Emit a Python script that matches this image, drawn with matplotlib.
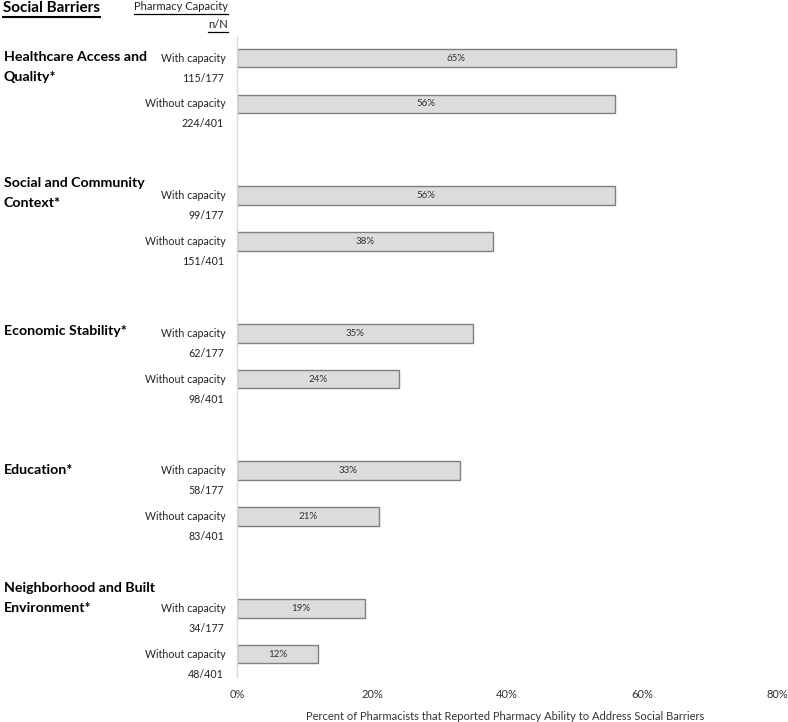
import matplotlib
matplotlib.use("Agg")
import matplotlib.pyplot as plt
from matplotlib.lines import Line2D

plt.rcParams['font.family'] = ['Lato', 'DejaVu Sans']

groups = ["Healthcare Access and\nQuality*", "Social and Community\nContext*",
          "Economic Stability*", "Education*", "Neighborhood and Built\nEnvironment*"]
with_pct = [65, 56, 35, 33, 19]
without_pct = [56, 38, 24, 21, 12]
with_n = ["115/177", "99/177", "62/177", "58/177", "34/177"]
without_n = ["224/401", "151/401", "98/401", "83/401", "48/401"]
sub_labels = ["With capacity", "Without capacity"]
xticks = [0, 20, 40, 60, 80]

W, H = 788, 722
fig = plt.figure(figsize=(W / 100, H / 100), dpi=100)
ax_l, ax_r, ax_t, ax_b = 237, 777, 37, 677
ax = fig.add_axes([ax_l / W, 1 - ax_b / H, (ax_r - ax_l) / W, (ax_b - ax_t) / H])

ax.set_xlim(0, 80)
ax.set_ylim(13.5, -0.46)

bar_fc = '#dcdcdc'
bar_ec = '#808080'
h = 0.41
for g in range(len(groups)):
    for k, vals in enumerate([with_pct, without_pct]):
        y = 3 * g + k
        ax.barh(y, vals[g], height=h, color=bar_fc, edgecolor=bar_ec, linewidth=1.0)
        ax.text(vals[g] / 2, y, f"{vals[g]}%", ha='center', va='center', fontsize=7, color='#333333')

ax.set_xticks(xticks)
ax.set_xticklabels([f"{t}%" for t in xticks], fontsize=8, color='#333333')
ax.tick_params(axis='x', length=0, pad=9)
ax.set_yticks([])
for s in ['top', 'right', 'bottom']:
    ax.spines[s].set_visible(False)
ax.spines['left'].set_color('#d9d9d9')
ax.spines['left'].set_linewidth(1.0)

def fx(px):
    return px / W

def fy(py):
    return 1 - py / H

fig.text(fx(505), fy(716), "Percent of Pharmacists that Reported Pharmacy Ability to Address Social Barriers",
         ha='center', va='center', fontsize=8, color='#333333')

unit = (ax_b - ax_t) / 13.96
def ypix(ydata):
    return ax_t + (ydata + 0.46) * unit

# sublabels
for g in range(len(groups)):
    for k, ns in enumerate([with_n, without_n]):
        yp = ypix(3 * g + k)
        fig.text(fx(226), fy(yp), sub_labels[k], ha='right', va='center', fontsize=7.7, color='#222222')
        fig.text(fx(224), fy(yp + 20), ns[g], ha='right', va='center', fontsize=7.7, color='#222222')

# group titles
title_off = [-1, -13, -2, -1, -20]
for g, name in enumerate(groups):
    yp = ypix(3 * g) + title_off[g]
    for i, line in enumerate(name.split("\n")):
        fig.text(fx(4), fy(yp + 20 * i), line, ha='left', va='center', fontsize=10.2,
                 fontweight='bold', color='black')

# headers with underline
t1 = fig.text(fx(3), fy(8), "Social Barriers", ha='left', va='center', fontsize=11,
              fontweight='bold', color='black')
t2 = fig.text(fx(228), fy(7), "Pharmacy Capacity", ha='right', va='center', fontsize=8, color='#222222')
t3 = fig.text(fx(228), fy(25), "n/N", ha='right', va='center', fontsize=8, color='#222222')

fig.canvas.draw()
r = fig.canvas.get_renderer()
for t, lw, off in [(t1, 1.5, 2), (t2, 0.9, 1), (t3, 0.9, 1)]:
    bb = t.get_window_extent(r)
    yline = bb.y0 - off
    fig.add_artist(Line2D([bb.x0 / W, bb.x1 / W], [yline / H, yline / H],
                          transform=fig.transFigure, color='black', linewidth=lw))

fig.savefig("out.png", dpi=100)
